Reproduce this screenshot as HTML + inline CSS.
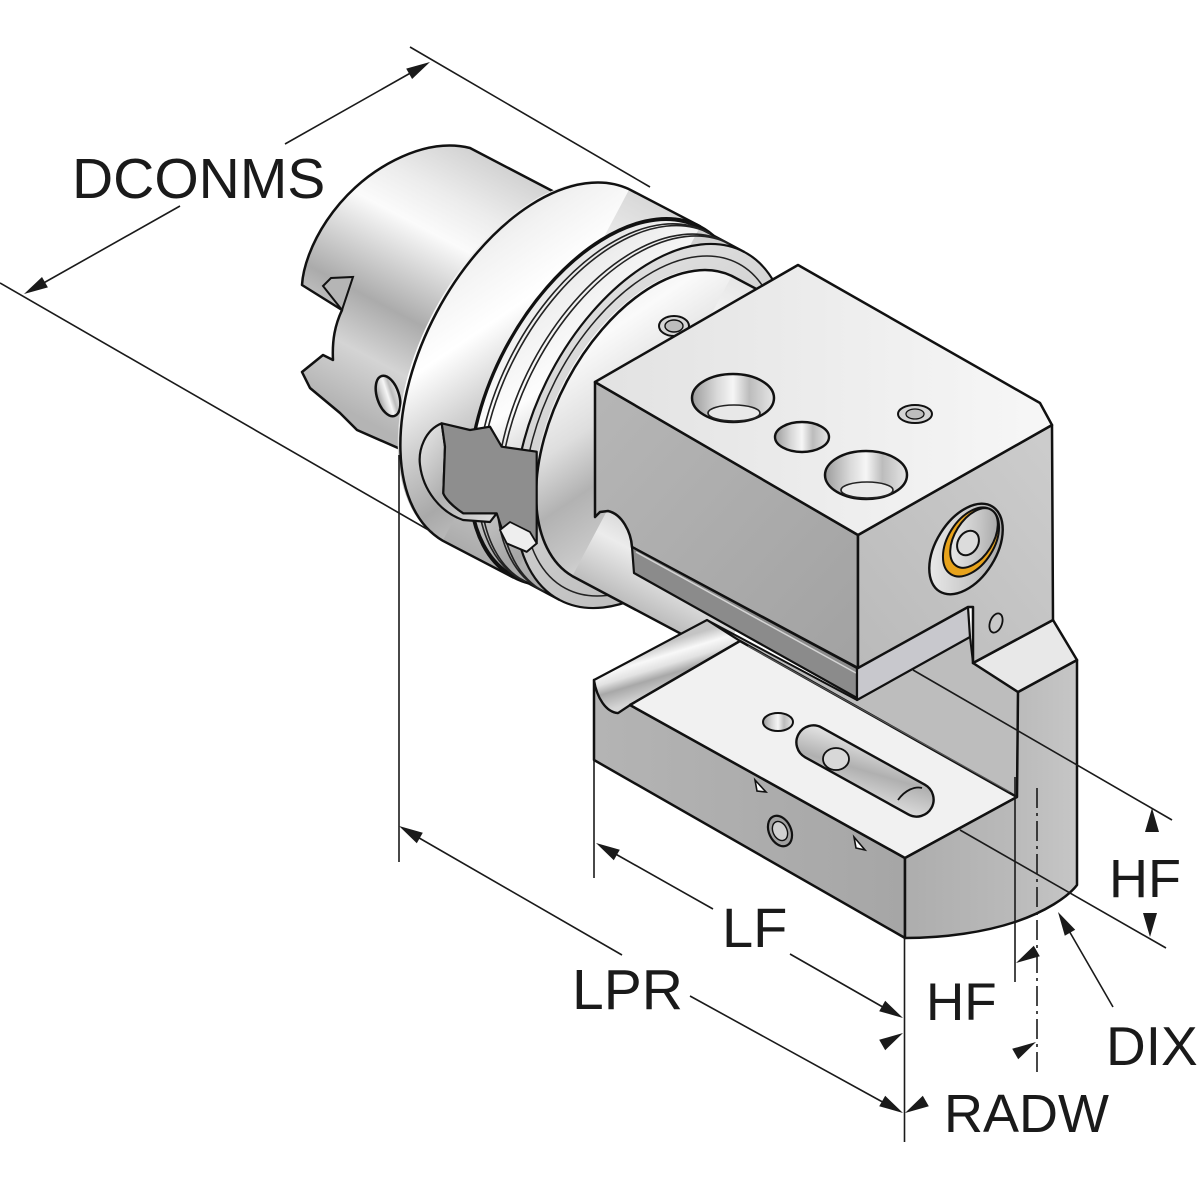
<!DOCTYPE html>
<html><head><meta charset="utf-8"><style>html,body{margin:0;padding:0;background:#fff}svg{display:block}</style></head>
<body>
<svg width="1200" height="1200" viewBox="0 0 1200 1200" xmlns="http://www.w3.org/2000/svg">
<defs>
<linearGradient id="gs" gradientUnits="userSpaceOnUse" x1="470" y1="148" x2="334" y2="404">
<stop offset="0" stop-color="#d2d2d2"/><stop offset=".18" stop-color="#ececec"/><stop offset=".32" stop-color="#fbfbfb"/><stop offset=".48" stop-color="#d0d0d0"/><stop offset=".62" stop-color="#ababab"/><stop offset=".8" stop-color="#d4d4d4"/><stop offset="1" stop-color="#b4b4b4"/>
</linearGradient>
<linearGradient id="gf" gradientUnits="userSpaceOnUse" x1="629" y1="189" x2="443" y2="541">
<stop offset="0" stop-color="#d8d8d8"/><stop offset=".2" stop-color="#f2f2f2"/><stop offset=".35" stop-color="#ffffff"/><stop offset=".5" stop-color="#d2d2d2"/><stop offset=".66" stop-color="#a9a9a9"/><stop offset=".82" stop-color="#cbcbcb"/><stop offset="1" stop-color="#ababab"/>
</linearGradient>
<linearGradient id="gfc" gradientUnits="userSpaceOnUse" x1="700" y1="226" x2="514" y2="578">
<stop offset="0" stop-color="#eeeeee"/><stop offset=".5" stop-color="#dcdcdc"/><stop offset="1" stop-color="#bdbdbd"/>
</linearGradient>
<linearGradient id="gr" gradientUnits="userSpaceOnUse" x1="699" y1="228" x2="515" y2="576">
<stop offset="0" stop-color="#cfcfcf"/><stop offset=".2" stop-color="#eeeeee"/><stop offset=".38" stop-color="#fdfdfd"/><stop offset=".55" stop-color="#c6c6c6"/><stop offset=".7" stop-color="#a6a6a6"/><stop offset=".85" stop-color="#c8c8c8"/><stop offset="1" stop-color="#a8a8a8"/>
</linearGradient>
<linearGradient id="gfc2" gradientUnits="userSpaceOnUse" x1="744" y1="252" x2="560" y2="600">
<stop offset="0" stop-color="#e4e4e4"/><stop offset=".5" stop-color="#cfcfcf"/><stop offset="1" stop-color="#b6b6b6"/>
</linearGradient>
<linearGradient id="gb" gradientUnits="userSpaceOnUse" x1="732" y1="276" x2="572" y2="576">
<stop offset="0" stop-color="#e6e6e6"/><stop offset=".2" stop-color="#fafafa"/><stop offset=".4" stop-color="#dedede"/><stop offset=".55" stop-color="#b2b2b2"/><stop offset=".7" stop-color="#c8c8c8"/><stop offset=".85" stop-color="#ececec"/><stop offset="1" stop-color="#bcbcbc"/>
</linearGradient>
<linearGradient id="gtop" x1="0" y1="0" x2="1" y2="0">
<stop offset="0" stop-color="#e2e2e2"/><stop offset="1" stop-color="#f7f7f7"/>
</linearGradient>
<linearGradient id="gfront" x1="0" y1="0" x2="1" y2="1">
<stop offset="0" stop-color="#b6b6b6"/><stop offset="1" stop-color="#a2a2a2"/>
</linearGradient>
<linearGradient id="gright" x1="1" y1="0" x2="0" y2="1">
<stop offset="0" stop-color="#cdcdcd"/><stop offset="1" stop-color="#bababa"/>
</linearGradient>
<linearGradient id="gbf" x1="0" y1="0" x2="1" y2="0">
<stop offset="0" stop-color="#b4b4b4"/><stop offset="1" stop-color="#a6a6a6"/>
</linearGradient>
<linearGradient id="gend" x1="0" y1="0" x2="1" y2="0">
<stop offset="0" stop-color="#adadad"/><stop offset=".6" stop-color="#b9b9b9"/><stop offset="1" stop-color="#c6c6c6"/>
</linearGradient>
<linearGradient id="ggr" gradientUnits="userSpaceOnUse" x1="648" y1="648" x2="662" y2="694">
<stop offset="0" stop-color="#c4c4c4"/><stop offset=".25" stop-color="#f8f8f8"/><stop offset=".45" stop-color="#e2e2e2"/><stop offset=".65" stop-color="#a8a8a8"/><stop offset="1" stop-color="#d6d6d6"/>
</linearGradient>
<linearGradient id="ghole" x1="0" y1="0" x2="1" y2="0">
<stop offset="0" stop-color="#9c9c9c"/><stop offset=".3" stop-color="#d8d8d8"/><stop offset=".5" stop-color="#f6f6f6"/><stop offset=".7" stop-color="#bcbcbc"/><stop offset="1" stop-color="#e6e6e6"/>
</linearGradient>
<linearGradient id="gslot" x1="0" y1="0" x2="1" y2="1">
<stop offset="0" stop-color="#eaeaea"/><stop offset=".5" stop-color="#b0b0b0"/><stop offset="1" stop-color="#e0e0e0"/>
</linearGradient>
<linearGradient id="gbore" x1="0" y1="0" x2="1" y2="1">
<stop offset="0" stop-color="#f4f4f4"/><stop offset=".6" stop-color="#c4c4c4"/><stop offset="1" stop-color="#9a9a9a"/>
</linearGradient>
</defs>

<!-- SHANK -->
<path d="M302,285 C304,250 335,190 395,160 C425,145 450,143 470,148 L562,196 L480,484 L357,430 L340,413 L310,388 L302,372 L323,355 L333,360 C332,340 335,325 342,310 Z" fill="url(#gs)" stroke="#111" stroke-width="2.5" stroke-linejoin="round"/>
<polygon points="323,286 331,278 353,277 342,310" fill="#b5b5b5" stroke="#111" stroke-width="2"/>
<ellipse cx="388" cy="396" rx="11" ry="21" transform="rotate(-18 388 396)" fill="url(#ghole)" stroke="#111" stroke-width="2.5"/>

<!-- FLANGE -->
<ellipse cx="536" cy="365" rx="199" ry="115.4" transform="rotate(-62 536 365)" fill="url(#gf)"/>
<polygon points="629.3,189.3 700.3,226.3 513.7,577.7 442.7,540.7" fill="url(#gf)"/>
<ellipse cx="607" cy="402" rx="199" ry="115.4" transform="rotate(-62 607 402)" fill="url(#gfc)"/>
<path d="M629.3,189.3 A199,115.4 -62 0 0 442.7,540.7 L513.7,577.7 M629.3,189.3 L700.3,226.3" fill="none" stroke="#111" stroke-width="2.5"/>
<ellipse cx="607" cy="402" rx="199" ry="115.4" transform="rotate(-62 607 402)" fill="none" stroke="#111" stroke-width="2.2"/>

<!-- RING -->
<ellipse cx="607" cy="402" rx="197" ry="114.3" transform="rotate(-62 607 402)" fill="url(#gr)"/>
<polygon points="699.4,228 744.4,252 559.6,600 514.6,576" fill="url(#gr)"/>
<ellipse cx="652" cy="426" rx="197" ry="114.3" transform="rotate(-62 652 426)" fill="url(#gfc2)"/>
<path d="M699.4,228 A197,114.3 -62 0 0 514.6,576 L559.6,600 M699.4,228 L744.4,252" fill="none" stroke="#111" stroke-width="2.2"/>
<path d="M706.5,231.8 A197,114.3 -62 0 0 521.7,579.8 M710,233.6 A197,114.3 -62 0 0 525.2,581.6 M725.9,242.1 A197,114.3 -62 0 0 541.1,590.1 M729.4,244 A197,114.3 -62 0 0 544.6,592" fill="none" stroke="#222" stroke-width="1.6"/>
<ellipse cx="652" cy="426" rx="197" ry="114.3" transform="rotate(-62 652 426)" fill="none" stroke="#111" stroke-width="2.2"/>
<ellipse cx="652" cy="426" rx="184" ry="106.7" transform="rotate(-62 652 426)" fill="none" stroke="#222" stroke-width="1.5"/>

<!-- BODY -->
<ellipse cx="652" cy="426" rx="170" ry="98.6" transform="rotate(-62 652 426)" fill="url(#gb)"/>
<polygon points="731.7,275.9 881.8,355.6 722.4,655.8 572.3,576.1" fill="url(#gb)"/>
<path d="M731.7,275.9 A170,98.6 -62 0 0 572.3,576.1 L722.4,655.8 M731.7,275.9 L881.8,355.6" fill="none" stroke="#111" stroke-width="2.5"/>

<!-- FLANGE DRIVE SLOT -->
<path d="M441.7,423.3 C425,430 418,450 420,465 C423,490 440,512 463,520 L490,522 L496.7,513.3 L463.3,513.3 C452,506 445,498 443.3,493.3 L445,446.7 Z" fill="url(#gslot)" stroke="#111" stroke-width="2.2" stroke-linejoin="round"/>
<path d="M441.7,423.3 L470,430 L490,426.7 L501.7,446.7 L536.7,451.7 L536.7,543.3 L526.7,551.7 L506.7,543.3 L496.7,513.3 L463.3,513.3 C452,506 445,498 443.3,493.3 L445,446.7 Z" fill="#8e8e8e" stroke="#111" stroke-width="2.2" stroke-linejoin="round"/>
<polygon points="500,530 510,522 530,532 536.7,543.3 526.7,551.7 506.7,543.3" fill="#eeeeee" stroke="#111" stroke-width="1.8"/>

<!-- adapter screw -->
<ellipse cx="674" cy="326" rx="15" ry="10" fill="#d6d6d6" stroke="#111" stroke-width="2"/>
<ellipse cx="674" cy="326" rx="9" ry="6" fill="#bdbdbd" stroke="#111" stroke-width="1.4"/>

<!-- BASE: face behind upright / under block -->
<polygon points="707,620 857,700 970,637 973,663 1018,692 1017,797 740,641" fill="#bdbdbd" stroke="#111" stroke-width="2" stroke-linejoin="round"/>
<!-- base front face -->
<path d="M594,680 C597,698 606,712 618,713 L630,705 L905,858 L905,938 L594,760 Z" fill="url(#gbf)" stroke="#111" stroke-width="2.5" stroke-linejoin="round"/>
<!-- groove -->
<path d="M594,680 L707,620 L740,641 L630,705 L618,713 C606,712 597,698 594,680 Z" fill="url(#ggr)" stroke="#111" stroke-width="2.2" stroke-linejoin="round"/>
<!-- base top face -->
<polygon points="630,705 740,641 1017,797 905,858" fill="#f1f1f1" stroke="#111" stroke-width="2.5" stroke-linejoin="round"/>
<line x1="748" y1="646" x2="1010" y2="792" stroke="#555" stroke-width="1.2"/>
<!-- right end face -->
<path d="M905,858 L1017,797 L1018,692 L1077,660 L1077,885 C1068,897 1045,912 1015,922 C985,932 945,938 905,938 Z" fill="url(#gend)" stroke="#111" stroke-width="2.5" stroke-linejoin="round"/>
<!-- upright top -->
<polygon points="973,663 1053,620 1077,660 1018,692" fill="#e8e8e8" stroke="#111" stroke-width="2.5" stroke-linejoin="round"/>

<!-- base details -->
<ellipse cx="778" cy="722" rx="15" ry="9" fill="url(#ghole)" stroke="#111" stroke-width="2"/>
<rect x="-76" y="-17" width="152" height="34" rx="17" transform="translate(865,771) rotate(29)" fill="url(#gslot)" stroke="#111" stroke-width="2.4"/>
<ellipse cx="836" cy="759" rx="13" ry="11" fill="#d8d8d8" stroke="#111" stroke-width="1.8"/>
<path d="M898,800 C905,790 915,786 922,788" fill="none" stroke="#111" stroke-width="1.8"/>
<ellipse cx="780" cy="831" rx="11" ry="16" transform="rotate(-25 780 831)" fill="#a0a0a0" stroke="#111" stroke-width="2.2"/>
<ellipse cx="780" cy="831" rx="7" ry="10" transform="rotate(-25 780 831)" fill="#d0d0d0" stroke="#111" stroke-width="1.4"/>
<polygon points="755,780 766,792 757,791" fill="#fff" stroke="#111" stroke-width="1.6"/>
<polygon points="854,837 865,850 856,848" fill="#fff" stroke="#111" stroke-width="1.6"/>

<!-- BLOCK -->
<path d="M595,382 L858,535 L858,668 L632,547 C631,532 622,514 608,511 L600,512 L595,517 Z" fill="url(#gfront)" stroke="#111" stroke-width="2.5" stroke-linejoin="round"/>
<polygon points="632,547 857,668 857,698 634,573" fill="#8b8b8b" stroke="#111" stroke-width="2.2" stroke-linejoin="round"/>
<line x1="636" y1="552" x2="856" y2="673" stroke="#d4d4d4" stroke-width="1.5"/>
<polygon points="857,668 968,607 970,637 857,700" fill="#c8c8cd" stroke="#111" stroke-width="2.2" stroke-linejoin="round"/>
<polygon points="858,535 1052,425 1053,620 973,663 973,607 968,607 858,668" fill="url(#gright)" stroke="#111" stroke-width="2.5" stroke-linejoin="round"/>
<polygon points="595,382 798,265 1040,403 1052,425 858,535" fill="url(#gtop)" stroke="#111" stroke-width="2.5" stroke-linejoin="round"/>

<!-- top face holes -->
<ellipse cx="733" cy="398" rx="41" ry="24" fill="url(#ghole)" stroke="#111" stroke-width="2.5"/>
<ellipse cx="734" cy="413" rx="26" ry="8" fill="#e8e8e8" stroke="#222" stroke-width="1.6"/>
<ellipse cx="802" cy="437" rx="27" ry="15" fill="url(#ghole)" stroke="#111" stroke-width="2.4"/>
<ellipse cx="866" cy="475" rx="41" ry="24" fill="url(#ghole)" stroke="#111" stroke-width="2.5"/>
<ellipse cx="867" cy="490" rx="26" ry="8" fill="#e8e8e8" stroke="#222" stroke-width="1.6"/>
<ellipse cx="915" cy="414" rx="17" ry="9" fill="#d4d4d4" stroke="#111" stroke-width="2"/>
<ellipse cx="915" cy="414" rx="9" ry="5" fill="#bdbdbd" stroke="#111" stroke-width="1.3"/>

<!-- right face bore -->
<ellipse cx="966" cy="549" rx="50" ry="30" transform="rotate(-58 966 549)" fill="url(#gbore)" stroke="#111" stroke-width="2.4"/>
<ellipse cx="971" cy="542" rx="38" ry="23" transform="rotate(-58 971 542)" fill="#e8a31c" stroke="#111" stroke-width="2"/>
<ellipse cx="974" cy="538" rx="33" ry="19" transform="rotate(-58 974 538)" fill="url(#gbore)" stroke="#111" stroke-width="2"/>
<ellipse cx="968" cy="543" rx="13" ry="10" transform="rotate(-58 968 543)" fill="#dcdcdc" stroke="#111" stroke-width="2"/>
<ellipse cx="996" cy="623" rx="6" ry="10" transform="rotate(20 996 623)" fill="#c8c8c8" stroke="#111" stroke-width="1.8"/>

<!-- DIMENSION LINES -->
<g stroke="#1a1a1a" stroke-width="1.6" fill="none">
<line x1="410" y1="47" x2="650" y2="187"/>
<line x1="0" y1="283" x2="432" y2="532"/>
<line x1="40" y1="285" x2="180" y2="206"/>
<line x1="285" y1="144" x2="414" y2="71"/>
<line x1="399" y1="455" x2="399" y2="862"/>
<line x1="594" y1="760" x2="594" y2="878"/>
<line x1="904.5" y1="938" x2="904.5" y2="1142"/>
<line x1="612" y1="852" x2="713" y2="909"/>
<line x1="790" y1="954" x2="888" y2="1010"/>
<line x1="414" y1="835" x2="622" y2="955"/>
<line x1="690" y1="996" x2="888" y2="1105"/>
<line x1="1015" y1="777" x2="1015" y2="982"/>
<line x1="1037" y1="788" x2="1037" y2="1072" stroke-dasharray="20,5,3,5"/>
<line x1="913" y1="670" x2="1172" y2="820"/>
<line x1="960" y1="830" x2="1166" y2="948"/>
<line x1="1113" y1="1007" x2="1068" y2="929"/>
</g>
<g fill="#1a1a1a">
<polygon points="24,294 47.9,287.4 42,277"/>
<polygon points="430,62 412.1,79 406.2,68.6"/>
<polygon points="399,826 416.8,843.2 422.8,832.8"/>
<polygon points="596,843 613.8,860.2 619.8,849.8"/>
<polygon points="903,1018 879.2,1011.2 885.2,1000.8"/>
<polygon points="903,1113 879.2,1106.2 885.2,1095.8"/>
<polygon points="903,1033 885.2,1050.2 879.2,1039.8"/>
<polygon points="905,1113 928.8,1106.2 922.8,1095.8"/>
<polygon points="1016,963 1039.8,956.2 1033.8,945.8"/>
<polygon points="1036,1042 1018.2,1059.2 1012.2,1048.8"/>
<polygon points="1152,808 1145,832 1159,832"/>
<polygon points="1150,937 1143,913 1157,913"/>
<polygon points="1058,912 1075.2,929.8 1064.8,935.8"/>
</g>

<!-- LABELS -->
<g font-family="'Liberation Sans', Arial, sans-serif" fill="#1a1a1a">
<text x="72" y="198" font-size="57">DCONMS</text>
<text x="722" y="947" font-size="56">LF</text>
<text x="572" y="1009" font-size="57">LPR</text>
<text x="1109" y="897" font-size="54">HF</text>
<text x="926" y="1020" font-size="53">HF</text>
<text x="1106" y="1065" font-size="55">DIX</text>
<text x="944" y="1132" font-size="54">RADW</text>
</g>
</svg>
</body></html>
